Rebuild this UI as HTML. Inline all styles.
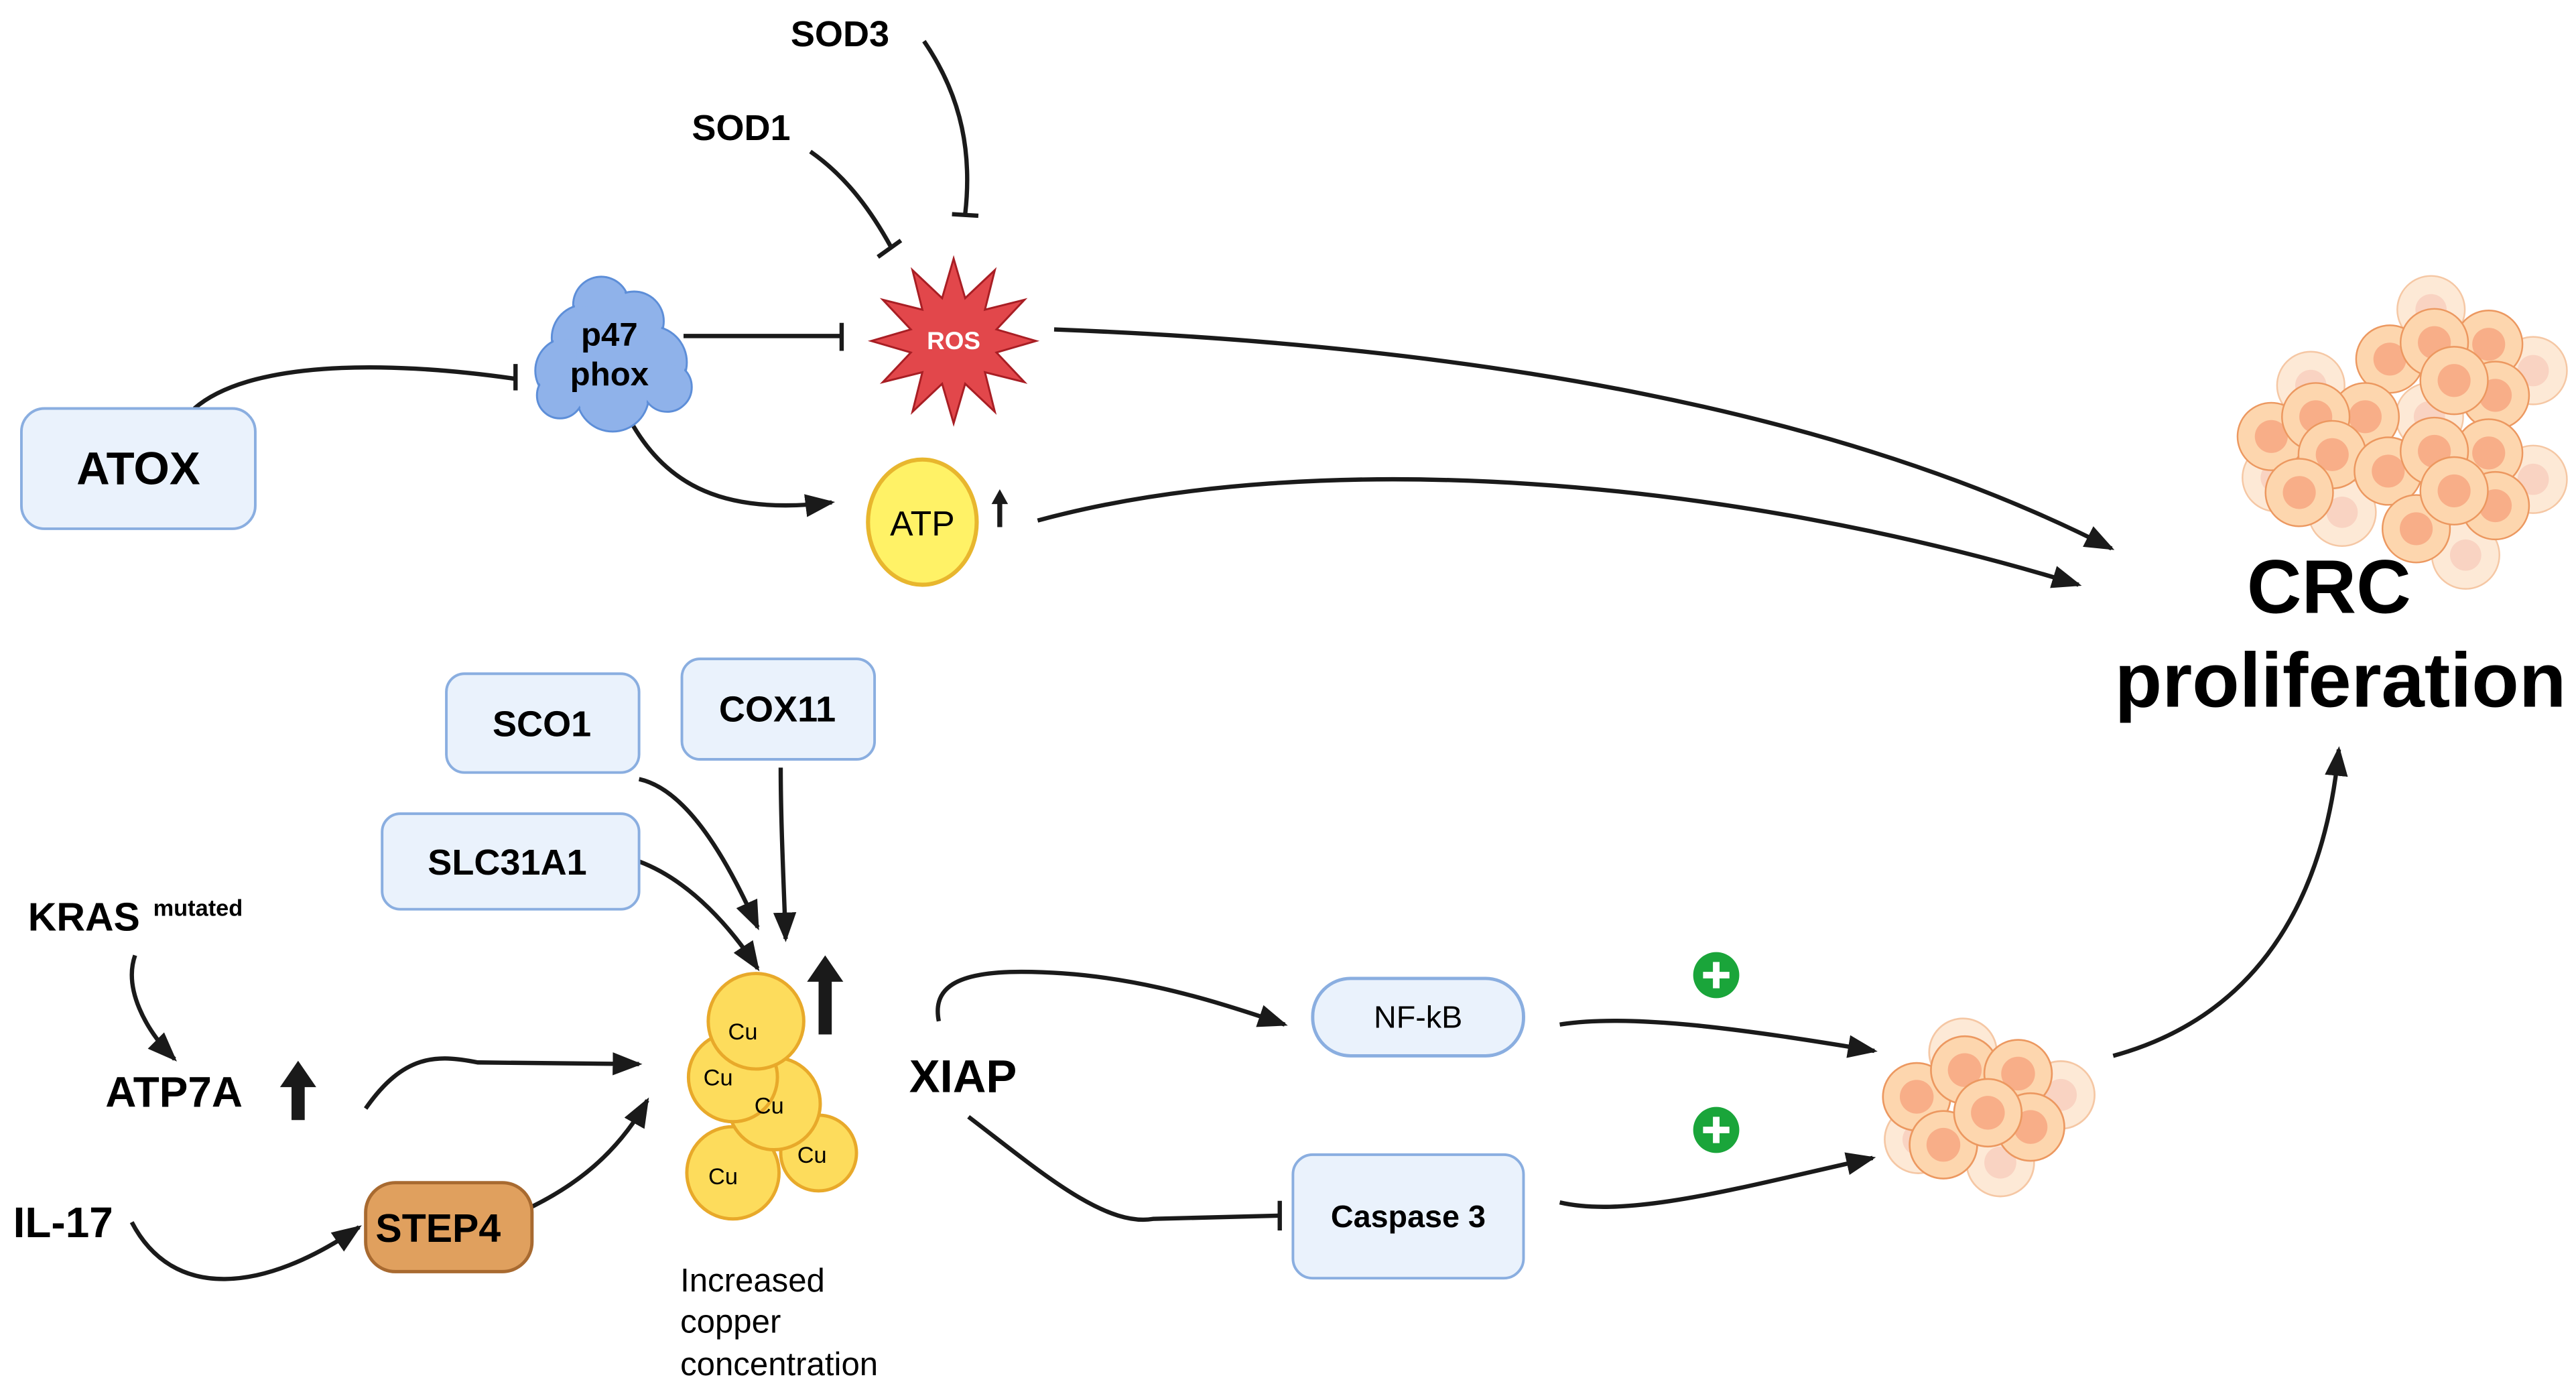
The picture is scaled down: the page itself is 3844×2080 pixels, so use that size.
<!DOCTYPE html>
<html><head><meta charset="utf-8"><style>
html,body{margin:0;padding:0;background:#fff;}
svg{display:block;}
text{font-family:"Liberation Sans",Arial,sans-serif;}
</style></head><body>
<svg width="3844" height="2080" viewBox="0 0 1564 846.3" preserveAspectRatio="none" xmlns="http://www.w3.org/2000/svg">
<defs>
<marker id="ar2" markerWidth="20" markerHeight="14" refX="16" refY="7" orient="auto" markerUnits="userSpaceOnUse"><path d="M0,0 L18,7 L0,14 Z" fill="#1a1a1a"/></marker>
<g id="cell"><circle r="20.5" fill="#fdd6ae" stroke="#ec9860" stroke-width="1"/><circle r="10" fill="#f8ae88"/></g>
<g id="cellL"><circle r="20.5" fill="#fde9d6" stroke="#f5c7a4" stroke-width="1"/><circle r="9.5" fill="#f9d3c2"/></g>
<g id="cs"><circle r="19" fill="#fdd6ae" stroke="#ec9860" stroke-width="1"/><circle r="9.5" fill="#f8ae88"/></g>
<g id="csL"><circle r="19" fill="#fde9d6" stroke="#f5c7a4" stroke-width="1"/><circle r="9" fill="#f9d3c2"/></g>
</defs>
<g fill="none" stroke="#1a1a1a" stroke-width="2.6">
<path d="M561,25 C585,60 590,95 586,130"/>
<line x1="578" y1="130" x2="594" y2="131"/>
<path d="M492,92 C515,108 530,130 541,150"/>
<line x1="533" y1="156" x2="547" y2="146"/>
<line x1="415" y1="204" x2="511" y2="204"/>
<line x1="511" y1="196" x2="511" y2="213"/>
<path d="M118,248 C150,220 230,218 313,230"/>
<line x1="313" y1="221" x2="313" y2="237"/>
<path d="M383,256 C405,295 440,313 505,305" marker-end="url(#ar2)"/>
<path d="M640,200 C900,210 1120,250 1282,333" marker-end="url(#ar2)"/>
<path d="M630,316 C800,270 1050,290 1262,355" marker-end="url(#ar2)"/>
<path d="M388,473 C420,480 445,530 460,563" marker-end="url(#ar2)"/>
<path d="M474,466 C474,500 476,540 477,570" marker-end="url(#ar2)"/>
<path d="M388,523 C420,535 445,565 460,588" marker-end="url(#ar2)"/>
<path d="M82,580 C75,600 88,625 106,643" marker-end="url(#ar2)"/>
<path d="M222,673 C245,640 265,640 290,645 L388,646" marker-end="url(#ar2)"/>
<path d="M80,742 C105,790 160,785 218,745" marker-end="url(#ar2)"/>
<path d="M318,735 C350,720 375,700 393,668" marker-end="url(#ar2)"/>
<path d="M570,620 C566,600 580,590 620,590 C680,590 730,605 780,622" marker-end="url(#ar2)"/>
<path d="M588,678 C630,710 670,745 700,740 L777,738"/>
<line x1="777" y1="729" x2="777" y2="747"/>
<path d="M947,622 C990,615 1060,625 1138,638" marker-end="url(#ar2)"/>
<path d="M947,730 C990,740 1060,720 1137,703" marker-end="url(#ar2)"/>
<path d="M1283,641 C1360,620 1410,560 1420,455" marker-end="url(#ar2)"/>
</g>
<path d="M607,320 L607,304" stroke="#1a1a1a" stroke-width="3"/>
<path d="M602,306 L607,297 L612,306 Z" fill="#1a1a1a"/>
<path d="M497,628 L497,596 L490,596 L501,580 L512,596 L505,596 L505,628 Z" fill="#1a1a1a"/>
<path d="M177,680 L177,660 L170,660 L181,644 L192,660 L185,660 L185,680 Z" fill="#1a1a1a"/>

<text x="510" y="28" font-size="22" font-weight="bold" text-anchor="middle">SOD3</text>
<text x="450" y="85" font-size="22" font-weight="bold" text-anchor="middle">SOD1</text>

<g fill="#8fb2ea" stroke="#5d8ed8" stroke-width="1.2">
<circle cx="365" cy="185" r="17"/><circle cx="385" cy="195" r="18"/><circle cx="355" cy="205" r="20"/>
<circle cx="395" cy="220" r="22"/><circle cx="345" cy="225" r="20"/><circle cx="372" cy="240" r="22"/>
<circle cx="405" cy="235" r="15"/><circle cx="340" cy="240" r="14"/>
</g>
<g fill="#8fb2ea"><circle cx="365" cy="185" r="16"/><circle cx="385" cy="195" r="17"/><circle cx="355" cy="205" r="19"/>
<circle cx="395" cy="220" r="21"/><circle cx="345" cy="225" r="19"/><circle cx="372" cy="240" r="21"/>
<circle cx="405" cy="235" r="14"/><circle cx="340" cy="240" r="13"/><circle cx="372" cy="215" r="22"/></g>
<text x="370" y="210" font-size="20" font-weight="bold" text-anchor="middle">p47</text>
<text x="370" y="234" font-size="20" font-weight="bold" text-anchor="middle">phox</text>

<polygon points="579,157 586,181 604,164 598,188 622,182 605,200 629,207 605,214 622,232 598,226 604,250 586,233 579,257 572,233 554,250 560,226 536,232 553,214 529,207 553,200 536,182 560,188 554,164 572,181" fill="#e2474b" stroke="#a81e24" stroke-width="1.2"/>
<text x="579" y="212" font-size="15" font-weight="bold" fill="#fff" text-anchor="middle">ROS</text>

<rect x="13" y="248" width="142" height="73" rx="14" fill="#eaf2fc" stroke="#8aaee0" stroke-width="1.6"/>
<text x="84" y="294" font-size="28" font-weight="bold" text-anchor="middle">ATOX</text>

<ellipse cx="560" cy="317" rx="33" ry="38" fill="#fff266" stroke="#e8b62e" stroke-width="2.5"/>
<text x="560" y="325" font-size="21" text-anchor="middle">ATP</text>

<!-- big cluster -->
<use href="#cellL" x="1476" y="188"/><use href="#cellL" x="1403" y="234"/><use href="#cellL" x="1538" y="225"/><use href="#cellL" x="1538" y="291"/><use href="#cellL" x="1497" y="337"/><use href="#cellL" x="1422" y="311"/><use href="#cellL" x="1475" y="253"/><use href="#cellL" x="1382" y="290"/>
<use href="#cell" x="1451" y="218"/><use href="#cell" x="1511" y="209"/><use href="#cell" x="1478" y="208"/><use href="#cell" x="1515" y="240"/><use href="#cell" x="1490" y="231"/>
<use href="#cell" x="1379" y="265"/><use href="#cell" x="1436" y="253"/><use href="#cell" x="1406" y="253"/><use href="#cell" x="1416" y="276"/><use href="#cell" x="1396" y="299"/>
<use href="#cell" x="1450" y="286"/><use href="#cell" x="1511" y="275"/><use href="#cell" x="1478" y="274"/><use href="#cell" x="1467" y="321"/><use href="#cell" x="1515" y="307"/><use href="#cell" x="1490" y="298"/>
<text x="1414" y="372" font-size="46" font-weight="bold" text-anchor="middle">CRC</text>
<text x="1421" y="429" font-size="47" font-weight="bold" text-anchor="middle">proliferation</text>

<rect x="271" y="409" width="117" height="60" rx="11" fill="#eaf2fc" stroke="#8aaee0" stroke-width="1.6"/>
<text x="329" y="447" font-size="22" font-weight="bold" text-anchor="middle">SCO1</text>
<rect x="414" y="400" width="117" height="61" rx="11" fill="#eaf2fc" stroke="#8aaee0" stroke-width="1.6"/>
<text x="472" y="438" font-size="22" font-weight="bold" text-anchor="middle">COX11</text>
<rect x="232" y="494" width="156" height="58" rx="11" fill="#eaf2fc" stroke="#8aaee0" stroke-width="1.6"/>
<text x="308" y="531" font-size="22" font-weight="bold" text-anchor="middle">SLC31A1</text>

<g fill="#fddc5c" stroke="#e8a92a" stroke-width="2">
<circle cx="445" cy="712" r="28"/><circle cx="497" cy="700" r="23"/><circle cx="470" cy="670" r="28"/><circle cx="445" cy="654" r="27"/><circle cx="459" cy="620" r="29"/>
</g>
<g font-size="14" text-anchor="middle">
<text x="451" y="631">Cu</text><text x="436" y="659">Cu</text><text x="467" y="676">Cu</text><text x="439" y="719">Cu</text><text x="493" y="706">Cu</text>
</g>
<g font-size="20"><text x="413" y="784">Increased</text><text x="413" y="809">copper</text><text x="413" y="835">concentration</text></g>

<text x="17" y="565" font-size="24" font-weight="bold">KRAS</text>
<text x="93" y="556" font-size="14" font-weight="bold">mutated</text>
<text x="64" y="672" font-size="26" font-weight="bold">ATP7A</text>
<text x="8" y="751" font-size="26" font-weight="bold">IL-17</text>
<rect x="222" y="718" width="101" height="54" rx="18" fill="#e0a05e" stroke="#a86a30" stroke-width="2"/>
<text x="266" y="754" font-size="24" font-weight="bold" text-anchor="middle">STEP4</text>

<text x="552" y="663" font-size="28" font-weight="bold">XIAP</text>
<rect x="797" y="594" width="128" height="47" rx="23" fill="#eaf2fc" stroke="#8aaee0" stroke-width="2"/>
<text x="861" y="624" font-size="19" text-anchor="middle">NF-kB</text>
<rect x="785" y="701" width="140" height="75" rx="12" fill="#eaf2fc" stroke="#8aaee0" stroke-width="1.6"/>
<text x="855" y="745" font-size="19" font-weight="bold" text-anchor="middle">Caspase 3</text>

<g><circle cx="1042" cy="592" r="14" fill="#1aa53a"/><path d="M1042,584 V600 M1034,592 H1050" stroke="#fff" stroke-width="4"/></g>
<g><circle cx="1042" cy="686" r="14" fill="#1aa53a"/><path d="M1042,678 V694 M1034,686 H1050" stroke="#fff" stroke-width="4"/></g>

<!-- small cluster -->
<g transform="translate(1208,668) scale(1.08) translate(-1208,-668)">
<use href="#csL" x="1193" y="641"/><use href="#csL" x="1248" y="665"/><use href="#csL" x="1214" y="703"/><use href="#csL" x="1168" y="690"/>
<use href="#cs" x="1167" y="666"/><use href="#cs" x="1194" y="651"/><use href="#cs" x="1224" y="653"/><use href="#cs" x="1182" y="693"/><use href="#cs" x="1231" y="683"/><use href="#cs" x="1207" y="675"/>
</g>
</svg>
</body></html>
